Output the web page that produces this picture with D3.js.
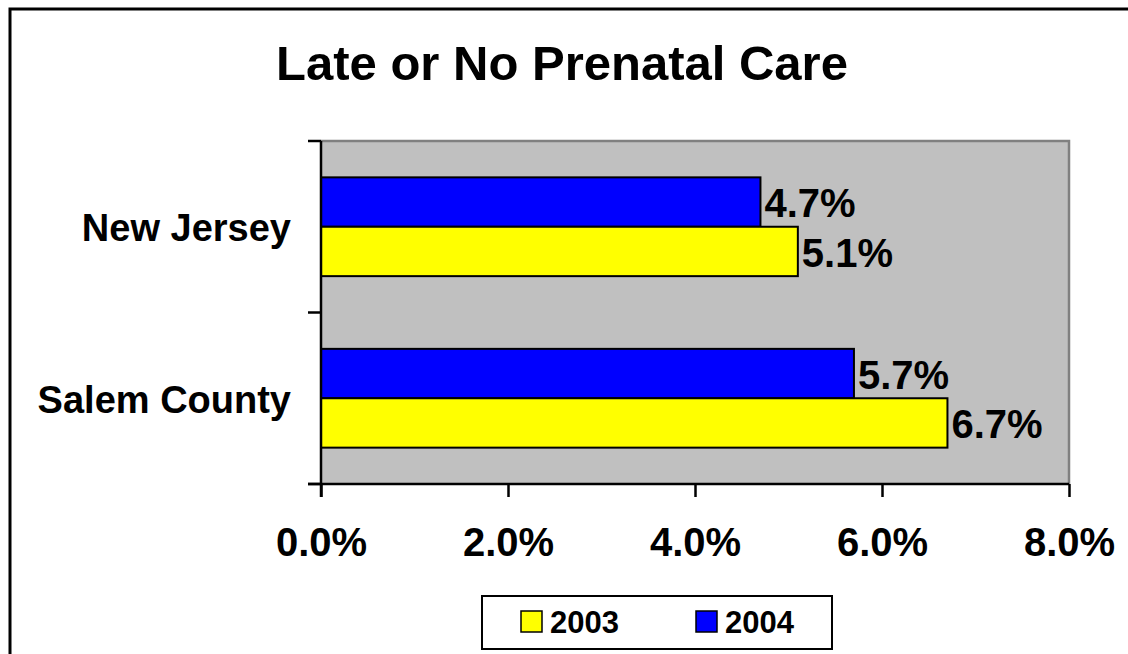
<!DOCTYPE html>
<html><head><meta charset="utf-8">
<script src="https://cdn.jsdelivr.net/npm/d3@7"></script>
<style>
body{margin:0;background:#fff;}
svg{display:block;font-family:"Liberation Sans",Arial,sans-serif;font-weight:bold;}
</style></head>
<body><svg id="c" width="1128" height="654"></svg>
<script>
const categories = ["New Jersey", "Salem County"];
const seriesNames = ["2004", "2003"];
const values2004 = [4.7, 5.7];
const values2003 = [5.1, 6.7];
const xTicks = [0, 2, 4, 6, 8];
const legendOrder = ["2003", "2004"];
const colors = {"2003": "#FFFF00", "2004": "#0000FF"};
const seriesValues = {"2004": values2004, "2003": values2003};

const svg = d3.select("#c");
// outer border
svg.append("rect").attr("x", 10).attr("y", 9).attr("width", 1140).attr("height", 680)
  .attr("fill", "#fff").attr("stroke", "#000").attr("stroke-width", 3);

const L = 321, R = 1069, T = 141, B = 484;
const x = d3.scaleLinear().domain([0, 8]).range([L, R]);
const y = d3.scaleBand().domain(categories).range([T, B]).paddingInner(0.424).paddingOuter(0.212);
const ys = d3.scaleBand().domain(seriesNames).range([0, y.bandwidth()]);

// plot area
svg.append("rect").attr("x", L).attr("y", T).attr("width", R - L).attr("height", B - T)
  .attr("fill", "#C0C0C0");
svg.append("path").attr("d", `M${L},${T}H${R}V${B}`).attr("fill", "none")
  .attr("stroke", "#808080").attr("stroke-width", 2.5);

// bars
categories.forEach((c, i) => {
  seriesNames.forEach(s => {
    const v = seriesValues[s][i];
    const y0 = y(c) + ys(s);
    svg.append("rect").attr("x", x(0)).attr("y", y0).attr("width", x(v) - x(0)).attr("height", ys.bandwidth())
      .attr("fill", colors[s]).attr("stroke", "#000").attr("stroke-width", 2);
    svg.append("text").attr("x", x(v) + 4).attr("y", y0 + ys.bandwidth() / 2)
      .attr("dy", "0.38em").attr("font-size", 40).attr("fill", "#000").text(v.toFixed(1) + "%");
  });
});

// x axis
const xAxis = d3.axisBottom(x).tickValues(xTicks).tickFormat(d => d.toFixed(1) + "%").tickSize(13).tickPadding(31);
const gx = svg.append("g").attr("transform", `translate(0,${B})`).call(xAxis);
gx.select(".domain").attr("stroke", "#000").attr("stroke-width", 2.5).attr("d", `M${L - 13},0H${R}`);
gx.selectAll(".tick line").attr("stroke", "#000").attr("stroke-width", 2.5);
gx.selectAll(".tick text").attr("font-size", 40).attr("font-family", "Liberation Sans, Arial, sans-serif").attr("font-weight", "bold").attr("fill", "#000");

// y axis
const yb = [T, T + y.step(), B];
const gy = svg.append("g");
gy.append("line").attr("x1", L).attr("x2", L).attr("y1", T).attr("y2", B + 13).attr("stroke", "#000").attr("stroke-width", 2.5);
gy.selectAll("line.t").data(yb).enter().append("line").attr("class", "t")
  .attr("x1", L - 13).attr("x2", L).attr("y1", d => d).attr("y2", d => d).attr("stroke", "#000").attr("stroke-width", 2.5);
const yAxis = d3.axisLeft(y).tickSize(0).tickPadding(30);
const gyl = svg.append("g").attr("transform", `translate(${L},0)`).call(yAxis);
gyl.select(".domain").remove();
gyl.selectAll(".tick text").attr("font-size", 38).attr("dy", "0.38em").attr("font-family", "Liberation Sans, Arial, sans-serif").attr("font-weight", "bold").attr("fill", "#000");

// title
svg.append("text").attr("x", 562).attr("y", 80).attr("text-anchor", "middle").attr("font-size", 49)
  .attr("fill", "#000").text("Late or No Prenatal Care");

// legend
svg.append("rect").attr("x", 482).attr("y", 596).attr("width", 350).attr("height", 53)
  .attr("fill", "#fff").attr("stroke", "#000").attr("stroke-width", 2);
const lx = [521, 696];
legendOrder.forEach((s, i) => {
  svg.append("rect").attr("x", lx[i]).attr("y", 611).attr("width", 21).attr("height", 21)
    .attr("fill", colors[s]).attr("stroke", "#000").attr("stroke-width", 1.5);
  svg.append("text").attr("x", lx[i] + 29).attr("y", 633).attr("font-size", 31).attr("fill", "#000").text(s);
});
</script></body></html>
